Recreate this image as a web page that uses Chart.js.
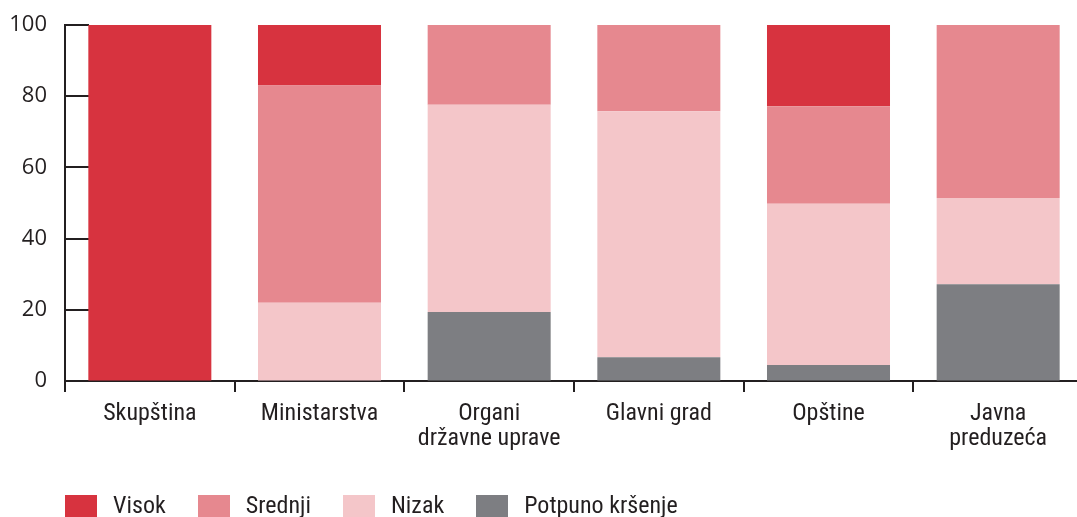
<!DOCTYPE html>
<html>
<head>
<meta charset="utf-8">
<script src="https://cdn.jsdelivr.net/npm/chart.js@4.4.1/dist/chart.umd.min.js"></script>
<style>
  html, body { margin: 0; padding: 0; overflow: hidden; background: #ffffff; width: 1077px; height: 517px; }
  #wrap { position: relative; width: 1083px; height: 517px; }
  #c { position: absolute; left: 0; top: 0; }
  #legend { position: absolute; left: 65px; top: 492px; display: flex; align-items: flex-start;
            font-family: 'Roboto', sans-serif; font-stretch: condensed; font-size: 24px;
            line-height: 26px; color: #231f20; white-space: nowrap; }
  .item { display: flex; align-items: flex-start; margin-right: 32px; }
  .box { width: 32px; height: 28px; margin-top: 3px; margin-right: 16px; }
</style>
</head>
<body>
<div id="wrap">
  <canvas id="c" width="1083" height="517"></canvas>
  <div id="legend"></div>
</div>
<script>
const categories = ['Skupština', 'Ministarstva', ['Organi', 'državne uprave'], 'Glavni grad', 'Opštine', ['Javna', 'preduzeća']];
const seriesNames = ['Visok', 'Srednji', 'Nizak', 'Potpuno kršenje'];
const visok   = [100, 17,   0,    0,    22.8, 0];
const srednji = [0,   61,   22.4, 24.2, 27.4, 48.6];
const nizak   = [0,   22,   58.2, 69.1, 45.3, 24.2];
const potpuno = [0,   0,    19.4, 6.7,  4.5,  27.2];
const yTicks  = [0, 20, 40, 60, 80, 100];

const colors = { 'Visok': '#d7333f', 'Srednji': '#e6888f', 'Nizak': '#f4c6c9', 'Potpuno kršenje': '#7d7e82' };
const axisColor = '#231f20';

const innerTicks = {
  id: 'innerTicks',
  beforeDatasetsDraw(chart) {
    const y = chart.scales.y, area = chart.chartArea, ctx = chart.ctx;
    ctx.save();
    ctx.strokeStyle = axisColor;
    ctx.lineWidth = 2;
    yTicks.forEach(v => {
      if (v === 0) return;
      const py = Math.round(y.getPixelForValue(v));
      ctx.beginPath();
      ctx.moveTo(area.left, py);
      ctx.lineTo(area.left + 24, py);
      ctx.stroke();
    });
    ctx.restore();
  }
};

const mk = (label, data) => ({
  label, data, backgroundColor: colors[label], borderWidth: 0,
  barPercentage: 0.725, categoryPercentage: 1.0
});

const chart = new Chart(document.getElementById('c'), {
  type: 'bar',
  data: {
    labels: categories,
    datasets: [
      mk('Potpuno kršenje', potpuno),
      mk('Nizak', nizak),
      mk('Srednji', srednji),
      mk('Visok', visok)
    ]
  },
  options: {
    responsive: false,
    animation: false,
    devicePixelRatio: 1,
    layout: { padding: { top: 25, left: 0, right: 0, bottom: 0 } },
    plugins: { legend: { display: false }, tooltip: { enabled: false } },
    scales: {
      x: {
        stacked: true,
        offset: true,
        grid: { drawOnChartArea: false, drawTicks: true, tickLength: 11, color: axisColor, lineWidth: 2, offset: true },
        border: { display: true, color: axisColor, width: 2 },
        ticks: {
          color: axisColor, padding: 10, maxRotation: 0, autoSkip: false,
          font: { family: "Roboto, sans-serif", weight: '400 condensed', size: 24, lineHeight: 1.04 }
        },
        afterFit(scale) { scale.height = 136; scale.paddingLeft = 0; scale.paddingRight = 0; }
      },
      y: {
        stacked: true,
        min: 0, max: 100,
        afterBuildTicks(scale) { scale.ticks = yTicks.map(v => ({ value: v })); },
        grid: { drawOnChartArea: false, drawTicks: false },
        border: { display: true, color: axisColor, width: 2 },
        ticks: {
          color: axisColor, padding: 18,
          font: { family: "'Open Sans', sans-serif", size: 22 }
        },
        afterFit(scale) { scale.width = 65; scale.paddingTop = 0; scale.paddingBottom = 0; }
      }
    }
  },
  plugins: [innerTicks]
});

// HTML legend built from the chart's datasets
const legendEl = document.getElementById('legend');
seriesNames.forEach(name => {
  const ds = chart.data.datasets.find(d => d.label === name);
  const item = document.createElement('div');
  item.className = 'item';
  const box = document.createElement('div');
  box.className = 'box';
  box.style.background = ds.backgroundColor;
  const txt = document.createElement('span');
  txt.textContent = ds.label;
  item.appendChild(box);
  item.appendChild(txt);
  legendEl.appendChild(item);
});
</script>
</body>
</html>
